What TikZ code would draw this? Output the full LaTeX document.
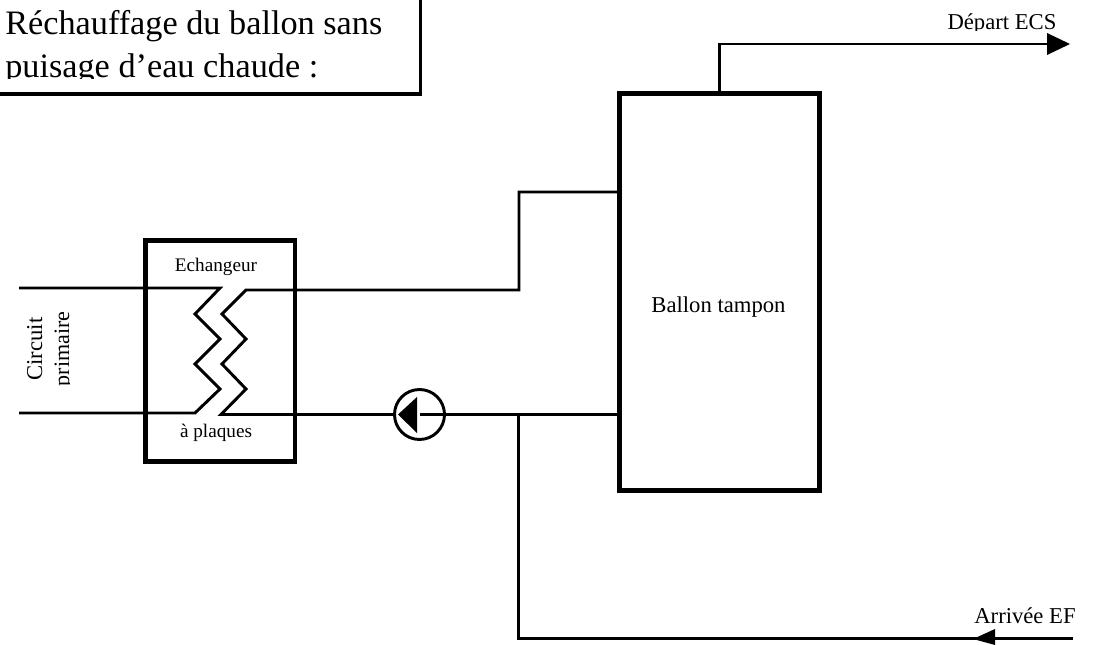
\documentclass[tikz,border=0pt]{standalone}
\usepackage{fontspec}
\setmainfont{Liberation Serif}
\tikzset{
  x=0.75pt,y=-0.75pt,
  thinpipe/.style={line width=2.2pt,line join=miter},
  tipfill/.style={fill=black,draw=none},
  exbox/.style={draw,line width=3.4pt,inner sep=0pt,outer sep=0pt,minimum width=112.1pt,minimum height=165.75pt},
  balbox/.style={draw,line width=4.1pt,inner sep=0pt,outer sep=0pt,minimum width=150pt,minimum height=297.75pt},
  pumpcirc/.style={draw,circle,line width=2.2pt,minimum size=37.5pt,inner sep=0pt,outer sep=0pt},
  lblbig/.style={inner sep=0pt,anchor=base west,font=\fontsize{25.7}{30}\selectfont},
  lbl/.style={inner sep=0pt,anchor=base,font=\fontsize{17}{20}\selectfont},
  lblsmall/.style={inner sep=0pt,anchor=base,font=\fontsize{14.4}{17}\selectfont},
  lblrot/.style={inner sep=0pt,anchor=base,rotate=90,font=\fontsize{17}{20}\selectfont},
}
\begin{document}
\begin{tikzpicture}
\useasboundingbox (0,0) rectangle (1104,645);
% title
\begin{scope}
\clip (0,0) rectangle (419,78.5);
\node[lblbig] (t1) at (5,34.5) {Réchauffage du ballon sans};
\node[lblbig] (t2) at (5,78) {puisage d’eau chaude :};
\end{scope}
\coordinate (tbl) at (0,94);
\coordinate (tbc) at (420.5,94);
\coordinate (tbr) at (420.5,0);
\draw[line width=2.3pt] (tbl) -- (tbc) -- (tbr);
% boxes
\node[exbox] (ex) at (220.25,351) {};
\node[balbox] (ballon) at (719.5,292) {};
\node[lbl] (ball) at (718.5,313) {Ballon tampon};
\node[lblsmall] (ech) at (216,271.5) {Echangeur};
\node[lblsmall] (apl) at (216,438) {à plaques};
% pump
\node[pumpcirc] (pump) at (419.5,414.5) {};
% primary circuit
\coordinate (pa) at (19,288);
\coordinate (pb) at (19,413);
\draw[thinpipe] (pa) -- (220,288) -- (195,314) -- (220,339) -- (195,364) -- (220,389) -- (195,413) -- (pb);
% secondary circuit
\coordinate (j1) at (519,290);
\coordinate (j2) at (519,192);
\coordinate (j3) at (ballon.west |- j2);
\draw[thinpipe] (j3) -- (j2) -- (j1) -- (246,290) -- (222,314) -- (246,339) -- (222,364) -- (246,389) -- (221,414.5) -- (pump.west);
\coordinate (b3) at (ballon.west |- pump);
\draw[thinpipe] (pump.center) -- (b3);
\fill[tipfill] (398,414.5) -- (417,397) -- (417,433) -- cycle;
% cold water feed
\coordinate (tee) at (518.5,414.5);
\coordinate (c1) at (518.5,638.5);
\coordinate (c2) at (1073,638.5);
\draw[thinpipe] (tee) -- (c1) -- (c2);
\fill[tipfill] (973,639) -- (995,629) -- (995,645) -- cycle;
% outlet
\coordinate (o0) at (719.5,92);
\coordinate (o1) at (719.5,44);
\coordinate (o2) at (1050,44);
\draw[thinpipe] (o0) -- (o1) -- (o2);
\fill[tipfill] (1070,44) -- (1047,33) -- (1047,55) -- cycle;
\begin{scope}
\clip (900,0) rectangle (1104,30.5);
\node[lbl] (dep) at (1002,30) {Départ ECS};
\end{scope}
\node[lbl] (arr) at (1025,623) {Arrivée EF};
% circuit primaire
\node[lblrot] (circ) at (42,349) {Circuit};
\begin{scope}
\clip (40,280) rectangle (69.5,420);
\node[lblrot,font=\fontsize{16.5}{20}\selectfont] (prim) at (69,349) {primaire};
\end{scope}
\end{tikzpicture}
\end{document}
